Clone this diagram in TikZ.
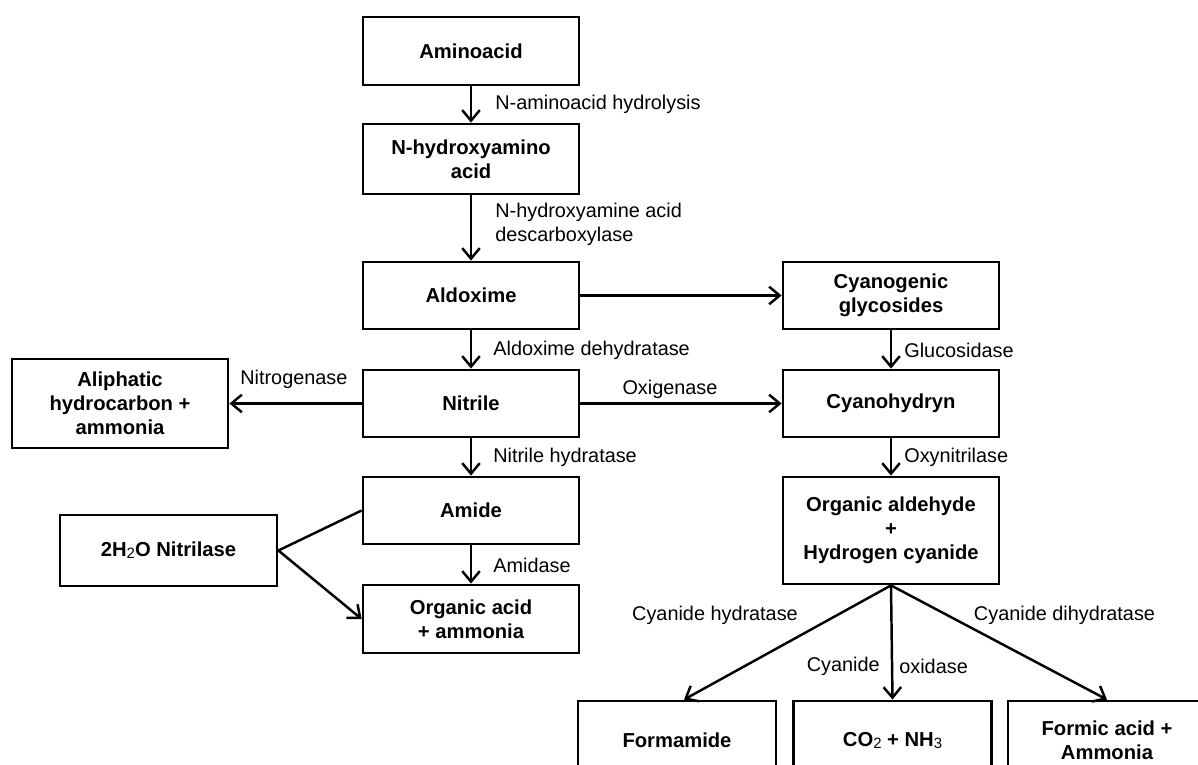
\documentclass[tikz,border=0pt]{standalone}
\usepackage{fontspec}
\setmainfont{Liberation Sans}
\usepackage{tikz}
\usetikzlibrary{arrows.meta,positioning}
\newcommand{\chemsub}[1]{\raisebox{-0.2ex}{\mdseries\fontsize{8.5}{9}\selectfont #1}}
\tikzset{
  % boxes
  box/.style={
    draw,
    line width=1.6pt,
    minimum width=4.32cm,
    minimum height=1.34cm,
    align=center,
    inner sep=2pt,
    font=\fontsize{11.5}{13.6}\selectfont\bfseries
  },
  % arrows
  arr/.style={-{Straight Barb[length=6pt,width=10pt]}, line width=1.4pt},
  lnk/.style={line width=1.4pt},
  arrlab/.style={font=\fontsize{11.3}{14}\selectfont, align=left, inner sep=0pt},
}

\begin{document}
\begin{tikzpicture}
  \useasboundingbox (0,0) rectangle (23.96,15.30);

  % Main column
  \node[box, minimum height=1.36cm] (amino) at (9.42,14.28) {Aminoacid};
  \node[box, minimum height=1.40cm] (nhyd) at (9.42,12.12) {N-hydroxyamino\\acid};
  \node[box] (aldox) at (9.42,9.39) {Aldoxime};
  \node[box] (nitrile) at (9.42,7.23) {Nitrile};
  \node[box] (amide) at (9.42,5.09) {Amide};
  \node[box, minimum height=1.36cm] (orgacid) at (9.42,2.92) {Organic acid\\+ ammonia};

  % Left side
  \node[box, minimum height=1.78cm] (aliph) at (2.40,7.23) {Aliphatic\\hydrocarbon +\\ammonia};
  \node[box, minimum width=4.34cm, minimum height=1.42cm] (nitrilase) at (3.37,4.29) {2H\chemsub{2}O Nitrilase};

  % Right column
  \node[box] (cyanog) at (17.82,9.39) {Cyanogenic\\glycosides};
  \node[box] (cyanoh) at (17.82,7.23) {Cyanohydryn};
  \node[box, minimum height=2.14cm] (aldeh) at (17.82,4.69) {Organic aldehyde\\+\\Hydrogen cyanide};

  % Bottom row
  \node[box, minimum width=3.96cm, minimum height=1.58cm] (formamide) at (13.54,0.49) {Formamide};
  \node[box, minimum width=3.96cm, minimum height=1.58cm] (co2) at (17.85,0.49) {CO\chemsub{2} + NH\chemsub{3}};
  \node[box, minimum width=3.96cm, minimum height=1.58cm] (formic) at (22.14,0.49) {Formic acid +\\Ammonia};

  % Connectors
  \draw[arr] (amino) -- (nhyd);
  \draw[arr] (nhyd) -- (aldox);
  \draw[arr] (aldox) -- (nitrile);
  \draw[arr] (nitrile) -- (amide);
  \draw[arr] (amide) -- (orgacid);
  \draw[arr] (aldox) -- (cyanog);
  \draw[arr] (nitrile) -- (cyanoh);
  \draw[arr] (nitrile) -- (aliph);
  \draw[arr] (cyanog) -- (cyanoh);
  \draw[arr] (cyanoh) -- (aldeh);
  \draw[lnk] (nitrilase.east) -- (amide.west);
  \draw[arr] (nitrilase.east) -- (orgacid.west);
  \draw[arr] (aldeh.south) -- ([xshift=0.14cm]formamide.north);
  \draw[arr] (aldeh.south) -- (co2.north);
  \draw[arr] (aldeh.south) -- (formic.north);

  % Enzyme labels
  \node[arrlab, anchor=west] (l1) at (9.90,13.22) {N-aminoacid hydrolysis};
  \node[arrlab, anchor=west] (l2) at (9.90,10.81) {N-hydroxyamine acid\\descarboxylase};
  \node[arrlab, anchor=west] (l3) at (9.86,8.30) {Aldoxime dehydratase};
  \node[arrlab, anchor=west] (l4) at (9.86,6.16) {Nitrile hydratase};
  \node[arrlab, anchor=west] (l5) at (9.86,4.00) {Amidase};
  \node[arrlab, anchor=west] (l6) at (4.80,7.72) {Nitrogenase};
  \node[arrlab] (l7) at (13.40,7.52) {Oxigenase};
  \node[arrlab, anchor=west] (l8) at (18.08,8.30) {Glucosidase};
  \node[arrlab, anchor=west] (l9) at (18.08,6.16) {Oxynitrilase};
  \node[arrlab] (l10) at (14.30,3.00) {Cyanide hydratase};
  \node[arrlab] (l11) at (21.29,3.00) {Cyanide dihydratase};
  \node[arrlab, anchor=east] (l12) at (17.60,1.98) {Cyanide};
  \node[arrlab, anchor=west] (l13) at (17.98,1.98) {oxidase};
\end{tikzpicture}
\end{document}
